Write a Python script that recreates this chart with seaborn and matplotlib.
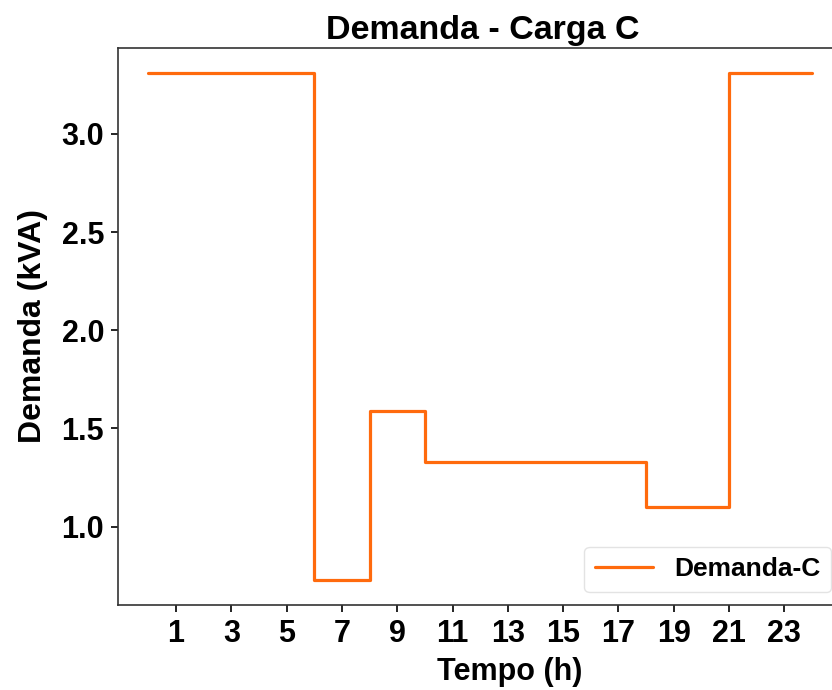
import matplotlib
matplotlib.use('Agg')
import matplotlib.pyplot as plt
import seaborn as sns
import pandas as pd

# demanda horaria (kVA), hora 0..23, ultimo valor repetido para fechar o degrau em 24h
horas = list(range(25))
demanda = [3.31, 3.31, 3.31, 3.31, 3.31, 3.31,
           0.73, 0.73,
           1.59, 1.59,
           1.33, 1.33, 1.33, 1.33, 1.33, 1.33, 1.33, 1.33,
           1.10, 1.10, 1.10,
           3.31, 3.31, 3.31, 3.31]
xticks = list(range(1, 24, 2))
yticks = [1.0, 1.5, 2.0, 2.5, 3.0]

sns.set_style('white')
plt.rcParams['font.family'] = ['Liberation Sans', 'DejaVu Sans']
plt.rcParams['font.weight'] = 'bold'
plt.rcParams['text.color'] = 'black'
plt.rcParams['axes.labelcolor'] = 'black'
plt.rcParams['xtick.color'] = 'black'
plt.rcParams['ytick.color'] = 'black'

df = pd.DataFrame({'Tempo': horas, 'Demanda': demanda})

fig = plt.figure(figsize=(8.32, 6.9), dpi=100)
ax = fig.add_axes([118 / 832, 1 - 605 / 690, 730 / 832, (605 - 47.7) / 690])

sns.lineplot(data=df, x='Tempo', y='Demanda', drawstyle='steps-post',
             color='#ff6a0d', linewidth=2.3, label='Demanda-C', ax=ax)

ax.set_xlim(-1.1, 25.3)
ax.set_xticks(xticks)
ax.set_yticks(yticks)
ax.tick_params(axis='both', labelsize=22, length=5, width=1.2, direction='out',
               bottom=True, left=True, pad=5)
for lbl in ax.get_xticklabels() + ax.get_yticklabels():
    lbl.set_fontweight('bold')

for s in ax.spines.values():
    s.set_color('#333333')
    s.set_linewidth(1.2)

ax.set_title('Demanda - Carga C', fontsize=24.5, fontweight='bold', pad=6)
ax.set_xlabel('Tempo (h)', fontsize=22, fontweight='bold')
ax.xaxis.set_label_coords((509.5 - 118) / 730, -0.094)
ax.set_ylabel('Demanda (kVA)', fontsize=23, fontweight='bold', labelpad=10)

leg = ax.legend(loc='lower right', bbox_to_anchor=(831 / 832, 1 - 592 / 690),
                bbox_transform=fig.transFigure, borderaxespad=0,
                prop={'size': 19, 'weight': 'bold'}, handlelength=2.2,
                handletextpad=0.8, frameon=True)
leg.get_frame().set_edgecolor('#dddddd')

fig.savefig('out.png', dpi=100)
